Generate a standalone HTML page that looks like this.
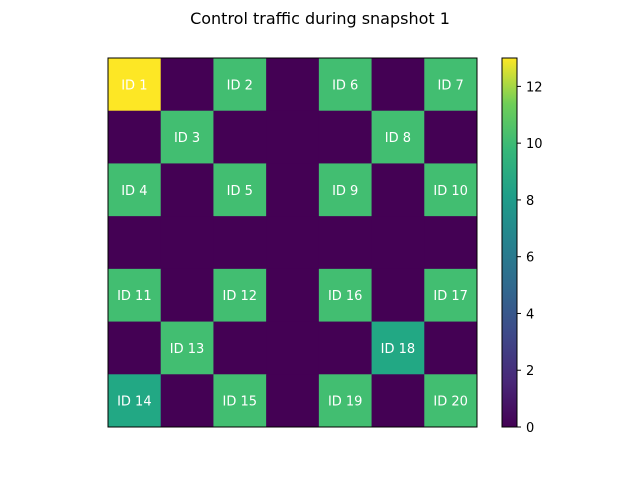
<!DOCTYPE html>
<html><head><meta charset="utf-8"><style>
body{margin:0;background:#fff;}
svg{display:block;font-family:"DejaVu Sans","Liberation Sans",sans-serif;}
</style></head><body>
<svg id="chart" width="640" height="480">
<text x="320" y="24" text-anchor="middle" font-size="16">Control traffic during snapshot 1</text>
<g id="cells"></g>
<rect x="108" y="58" width="369" height="369" fill="none" stroke="#000" stroke-width="1"/>
<defs><linearGradient id="vg" x1="0" y1="1" x2="0" y2="0">
<stop offset="0" stop-color="#440154"/><stop offset="0.125" stop-color="#482878"/><stop offset="0.25" stop-color="#3e4989"/><stop offset="0.375" stop-color="#31688e"/><stop offset="0.5" stop-color="#26828e"/><stop offset="0.625" stop-color="#1f9e89"/><stop offset="0.75" stop-color="#35b779"/><stop offset="0.875" stop-color="#6ece58"/><stop offset="1" stop-color="#fde725"/></linearGradient></defs>
<rect x="502" y="58" width="15" height="369" fill="url(#vg)" stroke="#000" stroke-width="1"/>
<g id="cbticks"></g>
</svg>
<script>
const values = [
 [13,0,9,0,9,0,9],
 [0,9,0,0,0,9,0],
 [9,0,9,0,9,0,9],
 [0,0,0,0,0,0,0],
 [9,0,9,0,9,0,9],
 [0,9,0,0,0,8,0],
 [8,0,9,0,9,0,9]
];
const labels = [
 ["ID 1","","ID 2","","ID 6","","ID 7"],
 ["","ID 3","","","","ID 8",""],
 ["ID 4","","ID 5","","ID 9","","ID 10"],
 ["","","","","","",""],
 ["ID 11","","ID 12","","ID 16","","ID 17"],
 ["","ID 13","","","","ID 18",""],
 ["ID 14","","ID 15","","ID 19","","ID 20"]
];
const cbTicks = [0,2,4,6,8,10,12];
const vmax = 13;
const ns="http://www.w3.org/2000/svg";
const stops=[[0,[68,1,84]],[0.125,[72,40,120]],[0.25,[62,73,137]],[0.375,[49,104,142]],[0.5,[38,130,142]],[0.625,[31,158,137]],[0.75,[53,183,121]],[0.875,[110,206,88]],[1,[253,231,37]]];
function viridis(t){
  if(Math.abs(t-0.6923)<0.01) return "rgb(66,190,113)";
  if(Math.abs(t-0.6154)<0.01) return "rgb(34,168,132)";
  for(let i=1;i<stops.length;i++){if(t<=stops[i][0]){const a=stops[i-1],b=stops[i],f=(t-a[0])/(b[0]-a[0]);return "rgb("+a[1].map((c,k)=>Math.round(c+(b[1][k]-c)*f)).join(",")+")";}}
  return "rgb(253,231,37)";
}
const x0=108,y0=58,size=369,n=values.length,cw=size/n;
const xs=c=>x0+c*cw, ys=r=>y0+r*cw;
const g=document.getElementById('cells');
values.forEach((row,r)=>row.forEach((v,c)=>{
  const rect=document.createElementNS(ns,'rect');
  rect.setAttribute('x',xs(c));rect.setAttribute('y',ys(r));
  rect.setAttribute('width',cw+0.5);rect.setAttribute('height',cw+0.5);
  rect.setAttribute('fill',viridis(v/vmax));
  
  
  g.appendChild(rect);
  if(labels[r][c]){
    const t=document.createElementNS(ns,'text');
    t.setAttribute('x',xs(c)+cw/2);t.setAttribute('y',ys(r)+cw/2+5);
    t.setAttribute('text-anchor','middle');t.setAttribute('font-size','13');t.setAttribute('fill','#fff');
    t.textContent=labels[r][c];
    
    
    g.appendChild(t);
  }
}));
const cb=document.getElementById('cbticks');
const cy=v=>427-v/vmax*369;
cbTicks.forEach(v=>{
  const l=document.createElementNS(ns,'line');
  l.setAttribute('x1',517);l.setAttribute('x2',521);l.setAttribute('y1',cy(v));l.setAttribute('y2',cy(v));l.setAttribute('stroke','#000');
  
  
  cb.appendChild(l);
  const t=document.createElementNS(ns,'text');
  t.setAttribute('x',526);t.setAttribute('y',cy(v)+5);t.setAttribute('font-size','13');
  t.textContent=v;
  
  
  cb.appendChild(t);
});
</script>
</body></html>
